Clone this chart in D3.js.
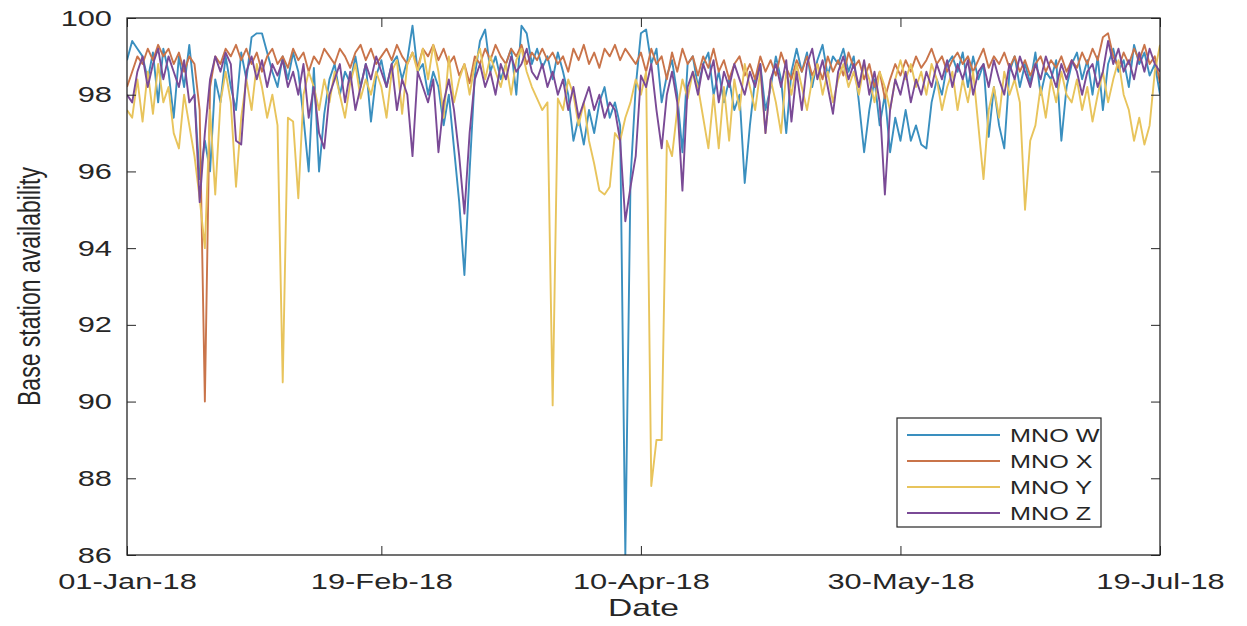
<!DOCTYPE html>
<html>
<head>
<meta charset="utf-8">
<script src="https://cdn.jsdelivr.net/npm/d3@7"></script>
<style>
  html, body { margin: 0; padding: 0; background: #fff; }
  svg text { font-family: "Liberation Sans", Arial, Helvetica, sans-serif; fill: #262626; }
</style>
</head>
<body>
<svg id="chart" width="1247" height="626"></svg>
<script>
// Daily base station availability (%), 01-Jan-2018 .. 19-Jul-2018
const startDate = "2018-01-01";
const seriesNames = ["MNO W", "MNO X", "MNO Y", "MNO Z"];
const seriesColors = ["#3a8fbf", "#c9744a", "#e8c45c", "#7a4a96"];
const yTicks = [86, 88, 90, 92, 94, 96, 98, 100];
const xTickDates = ["2018-01-01", "2018-02-19", "2018-04-10", "2018-05-30", "2018-07-19"];
const xTickLabels = ["01-Jan-18", "19-Feb-18", "10-Apr-18", "30-May-18", "19-Jul-18"];

const mnoW = [
  98.9, 99.4, 99.2, 99.0, 98.4, 99.1, 97.8, 99.2, 98.6, 97.4,
  99.0, 98.2, 99.3, 98.0, 95.8, 96.8, 96.0, 98.4, 97.8, 99.0,
  98.2, 97.6, 99.1, 98.4, 99.5, 99.6, 99.6, 99.1, 98.6, 98.2,
  99.0, 98.4, 99.1, 98.6, 97.4, 96.0, 98.7, 96.0, 97.5, 98.4,
  98.8, 98.0, 98.6, 98.3, 99.0, 98.2, 98.8, 97.3, 98.5, 98.9,
  98.2, 98.8, 99.0, 98.4, 98.9, 99.8, 98.6, 98.8, 98.0, 98.6,
  98.2, 97.2, 98.0, 96.6, 95.2, 93.3, 96.0, 98.5, 99.4, 99.7,
  98.6, 99.0, 98.4, 98.8, 99.2, 98.0, 99.8, 99.6, 98.8, 99.2,
  98.7, 99.0, 98.4, 99.1, 98.6, 98.0, 96.8, 97.4, 96.7, 97.6,
  97.0, 97.8, 98.2, 97.4, 97.8, 97.2, 86.0, 95.8, 98.2, 99.6,
  99.7, 98.8, 99.2, 97.8, 98.5, 98.9, 98.0, 96.5, 98.8, 99.0,
  98.2, 98.8, 99.1, 98.0, 98.6, 97.8, 98.4, 97.6, 98.0, 95.7,
  97.2, 98.4, 98.8, 97.6, 98.2, 99.0, 98.4, 97.0, 98.6, 99.2,
  98.6, 99.1, 98.2, 98.9, 99.3, 98.5, 99.0, 98.8, 99.2, 98.6,
  99.0, 97.8, 96.5, 97.6, 98.4, 97.2, 98.0, 96.5, 97.4, 96.8,
  97.6, 96.8, 97.2, 96.7, 96.6, 97.8, 98.4, 98.0, 98.8, 99.0,
  98.6, 99.1, 98.2, 99.0, 98.4, 98.8, 96.9, 98.2, 97.2, 96.6,
  98.6, 99.0, 98.2, 98.8, 98.3, 99.1, 98.0, 98.6, 98.4, 98.9,
  96.8, 98.2, 98.8, 99.1, 98.4, 98.9, 98.0, 99.0, 97.6, 98.8,
  99.2, 98.6, 98.9, 98.2, 99.3, 98.8, 99.1, 98.5, 98.8, 98.0
];

const mnoX = [
  98.2, 98.6, 99.0, 98.8, 99.2, 98.9, 99.3, 99.0, 99.2, 98.8,
  99.1, 98.6, 99.0, 98.8, 97.6, 90.0, 98.2, 99.0, 98.8, 99.2,
  99.0, 99.3, 98.9, 99.2, 98.8, 99.1, 98.6, 99.0, 99.2, 98.8,
  99.0, 98.7, 99.2, 98.9, 99.1, 98.6, 99.0, 98.8, 99.2, 99.0,
  98.8, 99.2, 99.0, 98.7, 99.1, 99.3, 98.9, 99.2, 98.8, 99.0,
  99.2, 98.9, 99.3, 99.0, 98.8, 99.1, 98.7, 99.2, 99.0, 99.3,
  98.9, 99.2, 98.8, 99.0, 98.5, 98.8, 98.3, 99.0, 98.8, 99.2,
  98.9, 99.3, 99.0, 98.8, 99.2, 99.0, 99.3, 98.8, 99.1, 98.9,
  99.2, 98.9, 99.1, 98.8, 99.0, 98.6, 99.2, 98.9, 99.3, 98.8,
  99.1, 98.7, 99.2, 99.0, 99.3, 98.9, 99.2, 99.0, 98.8, 99.1,
  98.6, 99.2, 98.8, 99.0, 98.4, 99.1, 98.6, 99.2, 98.8, 99.0,
  98.5, 99.0, 98.7, 99.2, 98.6, 98.9, 98.4, 98.8, 99.0, 98.5,
  98.8, 98.4, 99.0, 98.6, 98.9, 98.5, 99.1, 98.7, 98.4, 98.9,
  98.6, 99.0, 98.5, 98.8, 98.4, 99.0, 98.6, 98.9, 98.5, 99.1,
  98.7, 98.9, 98.4, 98.8, 98.2, 98.6, 97.9, 98.4, 98.8, 98.5,
  98.9, 98.6, 99.0, 98.7, 98.9, 99.2, 98.8, 99.0, 98.6, 98.9,
  99.1, 98.8, 99.0, 98.6, 98.9, 99.2, 98.7, 99.0, 98.8, 99.1,
  98.7, 99.0, 98.6, 98.9, 98.5, 98.8, 99.0, 98.6, 98.9, 98.7,
  99.0, 98.6, 98.9, 98.7, 99.1, 98.8, 99.2, 98.9, 99.5, 99.6,
  99.0, 98.7, 99.1, 98.8, 99.2, 98.9, 99.3, 98.8, 99.0, 98.3
];

const mnoY = [
  97.6, 97.4, 98.4, 97.3, 98.6, 97.5, 98.8, 97.8, 98.2, 97.0,
  96.6, 98.0, 97.2, 96.4, 95.3, 94.0, 97.6, 95.4, 97.8, 98.6,
  97.8, 95.6, 97.4, 98.4, 97.6, 98.8, 98.2, 97.4, 98.0, 97.2,
  90.5, 97.4, 97.3, 95.3, 98.0, 98.6, 98.2, 97.6, 98.4, 97.8,
  98.6, 98.0, 97.4, 98.3, 98.8, 97.9, 98.4, 98.0, 98.6, 98.2,
  97.4, 98.6, 98.9, 97.5, 98.8, 99.1, 98.6, 99.2, 98.4, 99.3,
  98.6, 97.4, 99.0, 97.8, 98.4, 98.8, 98.0, 98.8, 99.2, 98.4,
  99.0, 98.6, 98.2, 98.8, 98.0, 98.9, 99.2, 98.6, 98.2, 97.9,
  97.6, 97.8, 89.9, 97.9, 97.6, 98.4, 98.0, 97.2, 97.8, 96.8,
  96.2, 95.5, 95.4, 95.6, 97.0, 96.8, 97.4, 97.8, 98.4, 98.0,
  98.6, 87.8, 89.0, 89.0, 96.8, 96.4, 97.6, 98.4, 97.9, 98.6,
  98.2, 97.4, 96.6, 98.0, 96.6, 98.2, 96.8, 98.4, 97.6, 98.8,
  98.2, 97.6, 98.6, 97.0, 98.4, 97.8, 97.0, 98.6, 98.0, 98.8,
  98.2, 97.6, 98.4, 98.8, 98.0, 98.6, 97.8, 98.4, 98.8, 98.2,
  98.6, 98.0, 98.8, 98.4, 97.8, 98.6, 98.2, 97.6, 98.4, 98.9,
  98.4, 98.8, 98.2, 98.6, 98.0, 98.8, 98.4, 97.6, 98.2, 98.6,
  97.6, 98.4, 97.8, 98.6, 97.2, 95.8, 97.6, 98.2, 97.4, 98.6,
  98.0, 98.4, 97.8, 95.0, 96.8, 97.2, 98.2, 97.4, 98.4, 97.8,
  98.6, 98.0, 97.8, 98.4, 97.6, 98.2, 97.3, 98.0, 98.6, 97.8,
  98.4, 98.9, 98.0, 97.6, 96.8, 97.4, 96.7, 97.2, 98.6, 99.3
];

const mnoZ = [
  98.0, 97.8, 98.6, 99.0, 98.2, 98.8, 99.2, 98.4, 99.0, 98.6,
  98.2, 98.9, 97.8, 98.0, 95.2, 97.0, 98.4, 99.0, 98.6, 99.1,
  98.8, 96.8, 96.7, 98.6, 99.0, 98.4, 98.9, 98.2, 98.8, 98.5,
  98.9, 98.2, 98.6, 98.0, 98.8, 97.4, 98.2, 97.0, 96.6, 98.0,
  98.4, 98.8, 97.8, 98.6, 97.6, 98.2, 98.8, 98.4, 99.0, 98.6,
  98.2, 98.8, 97.6, 98.4, 98.0, 96.4, 98.6, 98.2, 97.8, 98.4,
  96.5, 97.8, 98.4, 97.6, 96.4, 94.9, 97.0, 98.4, 98.8, 98.2,
  98.6, 98.0, 98.8, 98.4, 99.0, 98.6, 98.8, 99.2, 98.6, 98.4,
  98.8, 98.2, 98.6, 98.0, 98.4, 97.6, 98.2, 97.4, 97.8, 98.2,
  97.6, 98.0, 97.4, 97.8, 97.6, 96.8, 94.7, 95.6, 96.4, 98.5,
  98.2, 98.8, 97.6, 96.6, 98.0, 98.6, 97.8, 95.5, 98.2, 98.6,
  98.0, 98.8, 98.4, 98.9, 97.8, 98.6, 98.2, 98.8, 98.4, 98.0,
  98.6, 98.2, 98.8, 97.0, 98.4, 98.8, 98.2, 98.9, 97.3, 98.6,
  97.6, 98.8, 99.2, 98.4, 98.9, 98.2, 97.5, 98.6, 99.0, 98.4,
  98.8, 98.2, 98.9, 98.0, 98.6, 97.8, 95.4, 97.6, 98.4, 98.0,
  98.6, 97.8, 98.4, 98.0, 98.6, 98.2, 98.8, 98.4, 98.9, 98.2,
  98.8, 98.4, 98.9, 98.0, 98.6, 98.8, 98.2, 98.9, 98.4, 98.0,
  98.8, 98.4, 99.0, 98.6, 98.2, 98.8, 98.4, 99.0, 98.6, 98.2,
  98.8, 98.4, 98.9, 98.6, 98.0, 98.6, 98.8, 98.2, 98.6, 99.4,
  98.8, 99.2, 98.6, 98.9, 98.4, 99.1, 98.6, 99.2, 98.8, 98.6
];

const seriesValues = [mnoW, mnoX, mnoY, mnoZ];

// ---- layout ----
const svg = d3.select("#chart");
const plot = { left: 127, right: 1160, top: 18, bottom: 555 };
const stretch = 1.4;              // wide glyph aspect used for all labels
const parse = d3.utcParse("%Y-%m-%d");
const t0 = parse(startDate);
const dateAt = i => d3.utcDay.offset(t0, i);

const x = d3.scaleUtc()
  .domain([parse(xTickDates[0]), parse(xTickDates[xTickDates.length - 1])])
  .range([plot.left, plot.right]);
const y = d3.scaleLinear().domain([86, 100]).range([plot.bottom, plot.top]);

const tickLen = 9;
const axisColor = "#262626";

// data lines, clipped to the axes box
svg.append("defs").append("clipPath").attr("id", "plotClip")
  .append("rect")
  .attr("x", plot.left).attr("y", plot.top)
  .attr("width", plot.right - plot.left).attr("height", plot.bottom - plot.top);

const line = d3.line()
  .x((d, i) => x(dateAt(i)))
  .y(d => y(d));

const linesG = svg.append("g").attr("clip-path", "url(#plotClip)");
seriesValues.forEach((vals, k) => {
  linesG.append("path")
    .datum(vals)
    .attr("fill", "none")
    .attr("stroke", seriesColors[k])
    .attr("stroke-width", 1.9)
    .attr("stroke-linejoin", "round")
    .attr("d", line);
});

// axes (ticks pointing inward, mirrored on top and right)
const xTicks = xTickDates.map(parse);
const fmtX = d => xTickLabels[xTicks.findIndex(t => +t === +d)];

svg.append("g")
  .attr("transform", `translate(0,${plot.bottom})`)
  .call(d3.axisBottom(x).tickValues(xTicks).tickFormat(fmtX)
    .tickSizeInner(-tickLen).tickSizeOuter(0).tickPadding(tickLen + 9))
  .call(g => g.select(".domain").remove())
  .call(g => g.selectAll("line").attr("stroke", axisColor))
  .call(g => g.selectAll("text").attr("font-size", 22).attr("fill", axisColor)
    .attr("transform", `scale(${stretch},1)`)
    .style("font-family", "Liberation Sans, Arial, sans-serif"));

svg.append("g")
  .attr("transform", `translate(0,${plot.top})`)
  .call(d3.axisTop(x).tickValues(xTicks).tickFormat("")
    .tickSizeInner(-tickLen).tickSizeOuter(0))
  .call(g => g.select(".domain").remove())
  .call(g => g.selectAll("line").attr("stroke", axisColor));

const yLabelGap = 15;
svg.append("g")
  .attr("transform", `translate(${plot.left},0)`)
  .call(d3.axisLeft(y).tickValues(yTicks).tickFormat(d3.format("d"))
    .tickSizeInner(-tickLen).tickSizeOuter(0))
  .call(g => g.select(".domain").remove())
  .call(g => g.selectAll("line").attr("stroke", axisColor))
  .call(g => g.selectAll("text").attr("font-size", 22).attr("fill", axisColor)
    .attr("x", -yLabelGap / stretch)
    .attr("transform", `scale(${stretch},1)`)
    .style("font-family", "Liberation Sans, Arial, sans-serif"));

svg.append("g")
  .attr("transform", `translate(${plot.right},0)`)
  .call(d3.axisRight(y).tickValues(yTicks).tickFormat("")
    .tickSizeInner(-tickLen).tickSizeOuter(0))
  .call(g => g.select(".domain").remove())
  .call(g => g.selectAll("line").attr("stroke", axisColor));

// axes box
svg.append("rect")
  .attr("x", plot.left).attr("y", plot.top)
  .attr("width", plot.right - plot.left).attr("height", plot.bottom - plot.top)
  .attr("fill", "none").attr("stroke", axisColor).attr("stroke-width", 1.3);

// axis titles
svg.append("text")
  .attr("transform", `translate(${(plot.left + plot.right) / 2},616) scale(${stretch},1)`)
  .attr("text-anchor", "middle").attr("font-size", 24)
  .text("Date");

svg.append("text")
  .attr("transform", `translate(29,${(plot.top + plot.bottom) / 2}) scale(${stretch},1) rotate(-90)`)
  .attr("text-anchor", "middle").attr("dominant-baseline", "central")
  .attr("font-size", 23)
  .text("Base station availability");

// legend
const leg = { x: 897, y: 418, w: 204, h: 109 };
const legG = svg.append("g");
legG.append("rect")
  .attr("x", leg.x).attr("y", leg.y).attr("width", leg.w).attr("height", leg.h)
  .attr("fill", "#fff").attr("stroke", axisColor).attr("stroke-width", 1.2);
seriesNames.forEach((name, k) => {
  const cy = leg.y + 17 + k * 26;
  legG.append("line")
    .attr("x1", leg.x + 10).attr("x2", leg.x + 103)
    .attr("y1", cy).attr("y2", cy)
    .attr("stroke", seriesColors[k]).attr("stroke-width", 1.9);
  legG.append("text")
    .attr("transform", `translate(${leg.x + 113},${cy + 7}) scale(${stretch},1)`)
    .attr("font-size", 18)
    .text(name);
});
</script>
</body>
</html>
